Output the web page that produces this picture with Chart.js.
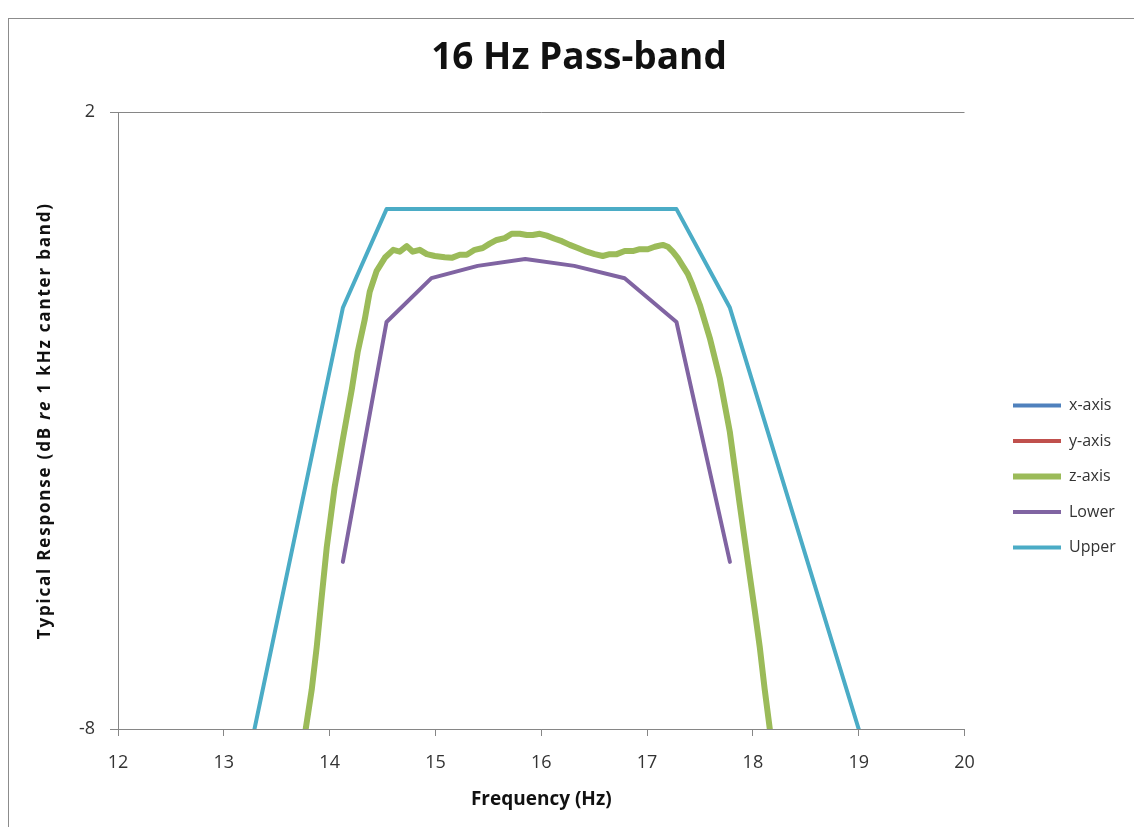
<!DOCTYPE html>
<html>
<head>
<meta charset="utf-8">
<title>16 Hz Pass-band</title>
<script src="https://cdn.jsdelivr.net/npm/chart.js@4.4.0/dist/chart.umd.min.js"></script>
<style>
  html, body { margin: 0; padding: 0; background: #fff; }
</style>
</head>
<body>
<canvas id="chart" width="1134" height="827"></canvas>
<script>
// Measured response (the x-axis and y-axis traces sit under the z-axis trace)
const freqZ = [13.774, 13.831, 13.878, 13.925, 13.973, 14.048, 14.124, 14.209, 14.266, 14.332,
    14.379, 14.445, 14.526, 14.601, 14.663, 14.729, 14.786, 14.852, 14.918, 14.994,
    15.088, 15.154, 15.230, 15.296, 15.371, 15.447, 15.513, 15.579, 15.655, 15.721,
    15.797, 15.863, 15.919, 15.986, 16.052, 16.127, 16.194, 16.269, 16.345, 16.430,
    16.505, 16.581, 16.647, 16.714, 16.789, 16.865, 16.931, 17.007, 17.073, 17.149,
    17.196, 17.243, 17.290, 17.337, 17.385, 17.422, 17.498, 17.593, 17.687, 17.782,
    17.876, 17.952, 18.017, 18.065, 18.112, 18.160];
const respZ = [-8.00, -7.36, -6.67, -5.86, -5.05, -4.07, -3.31, -2.50, -1.88, -1.36,
    -0.91, -0.57, -0.35, -0.23, -0.26, -0.17, -0.26, -0.23, -0.30, -0.33,
    -0.35, -0.36, -0.31, -0.31, -0.23, -0.20, -0.13, -0.07, -0.04, 0.03,
    0.03, 0.01, 0.01, 0.03, 0.00, -0.05, -0.09, -0.15, -0.20, -0.26,
    -0.30, -0.33, -0.30, -0.30, -0.25, -0.25, -0.22, -0.22, -0.18, -0.15,
    -0.18, -0.26, -0.36, -0.49, -0.62, -0.77, -1.12, -1.66, -2.31, -3.18,
    -4.36, -5.29, -6.07, -6.67, -7.36, -8.00];
const respX = respZ.slice();
const respY = respZ.slice();

// Tolerance limits
const freqLower = [14.125, 14.538, 14.962, 15.399, 15.849, 16.312, 16.788, 17.278, 17.783];
const respLower = [-5.29, -1.40, -0.69, -0.49, -0.38, -0.49, -0.69, -1.40, -5.29];
const freqUpper = [13.29, 14.125, 14.538, 17.278, 17.783, 19.0];
const respUpper = [-8.0, -1.17, 0.43, 0.43, -1.17, -8.0];

const xTicks = [12, 13, 14, 15, 16, 17, 18, 19, 20];
const yTicks = [-8, 2];

const FONT = '"Open Sans", sans-serif';
const AXIS_GREY = '#868686';
const TEXT = '#333333';

function toPoints(xs, ys) {
    return xs.map((x, i) => ({ x: x, y: ys[i] }));
}

function lineSet(label, xs, ys, color, width, order) {
    return {
        label: label,
        data: toPoints(xs, ys),
        borderColor: color,
        backgroundColor: color,
        borderWidth: width,
        pointRadius: 0,
        pointHoverRadius: 0,
        borderJoinStyle: 'round',
        borderCapStyle: 'round',
        tension: 0,
        order: order
    };
}

// frame, legend/title placement and the mixed-style y title
const excelFrame = {
    id: 'excelFrame',
    beforeDraw(chart) {
        const ctx = chart.ctx;
        ctx.save();
        ctx.fillStyle = '#fff';
        ctx.fillRect(0, 0, chart.width, chart.height);
        ctx.strokeStyle = '#8c8c8c';
        ctx.lineWidth = 1;
        ctx.strokeRect(8.5, 18.5, 1200, 900);
        ctx.restore();
    },
    afterLayout(chart) {
        const lg = chart.legend;
        lg.left = chart.chartArea.right + 29;
        lg.right = chart.width;
        chart.titleBlock.left = 24;
        chart.titleBlock.right = 1134;
    },
    afterDraw(chart) {
        const ctx = chart.ctx;
        const parts = [
            ['bold 17px ' + FONT, 'Typical Response (dB '],
            ['italic bold 17px ' + FONT, 're'],
            ['bold 17px ' + FONT, ' 1 kHz canter band)']
        ];
        ctx.save();
        ctx.translate(45, (chart.chartArea.top + chart.chartArea.bottom) / 2);
        ctx.rotate(-Math.PI / 2);
        ctx.fillStyle = '#111';
        ctx.textBaseline = 'middle';
        ctx.letterSpacing = '1.8px';
        let total = 0;
        parts.forEach(p => { ctx.font = p[0]; total += ctx.measureText(p[1]).width; });
        let x = -total / 2;
        parts.forEach(p => {
            ctx.font = p[0];
            ctx.fillText(p[1], x, 0);
            x += ctx.measureText(p[1]).width;
        });
        ctx.restore();
    }
};

new Chart(document.getElementById('chart'), {
    type: 'line',
    data: {
        datasets: [
            lineSet('x-axis', freqZ, respX, '#4F81BD', 4, 5),
            lineSet('y-axis', freqZ, respY, '#C0504D', 4, 4),
            lineSet('z-axis', freqZ, respZ, '#9BBB59', 6, 3),
            lineSet('Lower', freqLower, respLower, '#8064A2', 4, 2),
            lineSet('Upper', freqUpper, respUpper, '#4BACC6', 4, 1)
        ]
    },
    options: {
        responsive: false,
        devicePixelRatio: 1,
        animation: false,
        layout: { padding: { left: 0, right: 69.5, top: 0, bottom: 0 } },
        plugins: {
            tooltip: { enabled: false },
            title: {
                display: true,
                text: '16 Hz Pass-band',
                color: '#111',
                font: { family: FONT, size: 37, weight: 'bold' },
                padding: { top: 35.8, bottom: 32.1 }
            },
            legend: {
                position: 'right',
                maxWidth: 100,
                title: {
                    display: true,
                    text: ' ',
                    font: { size: 10 },
                    padding: { top: 114, bottom: 0 }
                },
                labels: {
                    usePointStyle: true,
                    pointStyle: 'line',
                    pointStyleWidth: 48,
                    padding: 19.5,
                    color: TEXT,
                    font: { family: FONT, size: 16 },
                    sort: (a, b) => a.datasetIndex - b.datasetIndex
                }
            }
        },
        scales: {
            x: {
                type: 'linear',
                min: 12,
                max: 20,
                afterBuildTicks: s => { s.ticks = xTicks.map(v => ({ value: v })); },
                afterFit: s => { s.height = 98; },
                grid: { drawOnChartArea: false, color: AXIS_GREY, tickLength: 7 },
                border: { color: AXIS_GREY },
                ticks: { color: TEXT, padding: 16, font: { family: FONT, size: 18 } },
                title: {
                    display: true,
                    text: 'Frequency (Hz)',
                    color: '#111',
                    font: { family: FONT, size: 19, weight: 'bold' },
                    padding: { top: 2, bottom: 15.6 }
                }
            },
            y: {
                type: 'linear',
                min: -8,
                max: 2,
                afterBuildTicks: s => { s.ticks = yTicks.map(v => ({ value: v })); },
                afterFit: s => { s.width = 118; },
                grid: { color: AXIS_GREY, tickLength: 8 },
                border: { color: AXIS_GREY },
                ticks: { color: TEXT, padding: 15, font: { family: FONT, size: 18 } }
            }
        }
    },
    plugins: [excelFrame]
});
</script>
</body>
</html>
